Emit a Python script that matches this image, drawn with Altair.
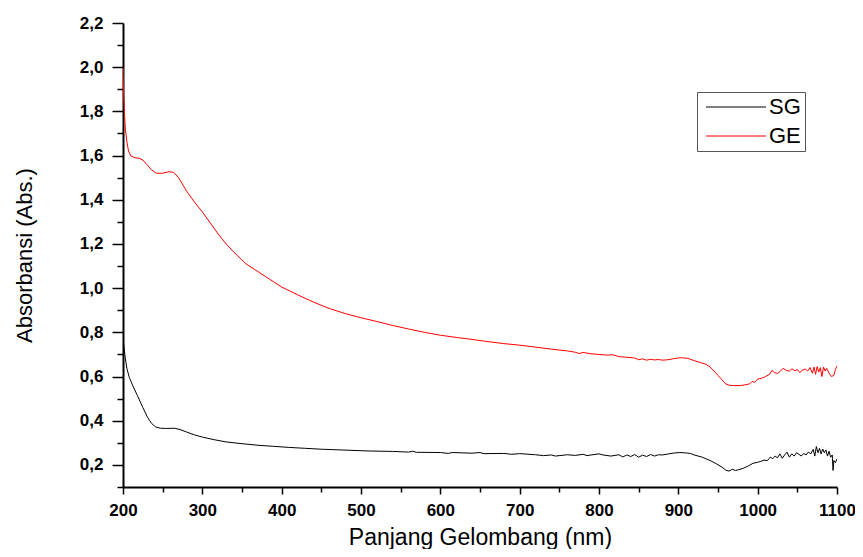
import altair as alt
import pandas as pd

series = ["SG", "GE"]
colors = ["#000000", "#ff0000"]

wl_sg = [200, 201, 203, 205, 208, 213, 218, 225, 231, 236, 241, 247, 255, 265, 272, 280, 290, 300,
         315, 330, 350, 370, 390, 410, 430, 450, 480, 510, 540, 560, 565, 570, 600, 610, 615, 640,
         650, 655, 680, 690, 700, 720, 730, 740, 745, 760, 770, 780, 785, 790, 800, 805, 815, 825,
         830, 835, 840, 845, 850, 855, 860, 865, 870, 875, 880, 888, 895, 902, 910, 915, 920, 930,
         940, 948, 955, 960, 964, 968, 972, 976, 982, 988, 994, 1000, 1004, 1008, 1012, 1016, 1019,
         1022, 1025, 1028, 1031, 1034, 1037, 1040, 1043, 1046, 1049, 1052, 1055, 1058, 1061, 1064,
         1067, 1070, 1072, 1074, 1076, 1078, 1080, 1082, 1084, 1086, 1088, 1090, 1092, 1094, 1095,
         1096, 1098, 1100]
abs_sg = [0.77, 0.74, 0.68, 0.635, 0.595, 0.553, 0.515, 0.46, 0.415, 0.388, 0.372, 0.366, 0.365,
          0.366, 0.36, 0.349, 0.336, 0.326, 0.314, 0.304, 0.296, 0.289, 0.284, 0.279, 0.275, 0.271,
          0.267, 0.263, 0.261, 0.258, 0.262, 0.257, 0.256, 0.252, 0.256, 0.253, 0.256, 0.251, 0.252,
          0.248, 0.251, 0.246, 0.242, 0.245, 0.24, 0.246, 0.243, 0.248, 0.242, 0.245, 0.25, 0.245,
          0.24, 0.246, 0.236, 0.245, 0.238, 0.247, 0.235, 0.244, 0.238, 0.247, 0.24, 0.246, 0.245,
          0.25, 0.254, 0.256, 0.254, 0.252, 0.245, 0.235, 0.22, 0.205, 0.19, 0.176, 0.172, 0.18,
          0.175, 0.178, 0.185, 0.195, 0.207, 0.212, 0.216, 0.222, 0.219, 0.235, 0.228, 0.24, 0.232,
          0.25, 0.23, 0.245, 0.258, 0.235, 0.25, 0.24, 0.255, 0.248, 0.24, 0.252, 0.245, 0.258,
          0.25, 0.27, 0.24, 0.283, 0.255, 0.275, 0.25, 0.272, 0.255, 0.268, 0.24, 0.262, 0.235,
          0.245, 0.175, 0.22, 0.21, 0.227]

wl_ge = [200, 201, 202, 203, 205, 207, 210, 215, 220, 225, 230, 236, 242, 250, 258, 264, 270, 280,
         290, 300, 310, 320, 330, 340, 355, 370, 385, 400, 420, 440, 460, 480, 500, 520, 540, 560,
         580, 600, 620, 640, 660, 680, 700, 720, 740, 760, 770, 775, 780, 790, 800, 810, 818, 825,
         835, 845, 850, 855, 860, 865, 870, 875, 880, 887, 893, 900, 905, 912, 920, 927, 935, 940,
         945, 950, 955, 960, 965, 970, 978, 985, 990, 993, 996, 1000, 1005, 1010, 1015, 1018, 1021,
         1025, 1028, 1032, 1036, 1040, 1043, 1047, 1050, 1053, 1057, 1060, 1063, 1066, 1069, 1071,
         1073, 1075, 1077, 1079, 1081, 1083, 1085, 1087, 1090, 1093, 1096, 1098, 1100]
abs_ge = [2.0, 1.86, 1.78, 1.72, 1.66, 1.62, 1.598, 1.59, 1.588, 1.58, 1.56, 1.535, 1.52, 1.52,
          1.527, 1.524, 1.5, 1.44, 1.39, 1.345, 1.295, 1.245, 1.2, 1.162, 1.11, 1.075, 1.04, 1.005,
          0.97, 0.937, 0.908, 0.885, 0.866, 0.849, 0.831, 0.815, 0.8, 0.787, 0.777, 0.768, 0.758,
          0.749, 0.742, 0.733, 0.724, 0.716, 0.71, 0.704, 0.709, 0.703, 0.7, 0.697, 0.698, 0.69,
          0.687, 0.684, 0.676, 0.68, 0.674, 0.678, 0.675, 0.677, 0.674, 0.676, 0.68, 0.684, 0.685,
          0.682, 0.672, 0.664, 0.655, 0.643, 0.625, 0.605, 0.585, 0.566, 0.56, 0.559, 0.559, 0.563,
          0.567, 0.578, 0.574, 0.588, 0.592, 0.6, 0.61, 0.628, 0.618, 0.614, 0.622, 0.637, 0.628,
          0.624, 0.635, 0.626, 0.632, 0.618, 0.63, 0.634, 0.625, 0.64, 0.615, 0.643, 0.61, 0.645,
          0.62, 0.64, 0.6, 0.643, 0.625, 0.637, 0.615, 0.6, 0.605, 0.632, 0.648]

x_ticks = list(range(200, 1101, 50))
y_ticks = [0.1, 0.2, 0.3, 0.4, 0.5, 0.6, 0.7, 0.8, 0.9, 1.0, 1.1, 1.2, 1.3, 1.4, 1.5, 1.6, 1.7,
           1.8, 1.9, 2.0, 2.1, 2.2]

df = pd.concat([
    pd.DataFrame({"wl": wl_sg, "abs": abs_sg, "s": "SG"}),
    pd.DataFrame({"wl": wl_ge, "abs": abs_ge, "s": "GE"}),
])

FONT = "Liberation Sans"

chart = alt.Chart(df).mark_line(strokeWidth=1, clip=True).encode(
    x=alt.X("wl:Q",
            scale=alt.Scale(domain=[200, 1100], nice=False, zero=False),
            axis=alt.Axis(values=x_ticks, format="d",
                          labelExpr="datum.value % 100 === 0 ? datum.label : ''",
                          tickSize={"condition": {"test": "datum.value % 100 === 0", "value": 7}, "value": 5},
                          labelFontSize=17, labelFontWeight="bold", labelPadding=8,
                          labelOverlap=False, labelFlush=False,
                          title="Panjang Gelombang (nm)", titleFontSize=23,
                          titleFontWeight="normal", titlePadding=8)),
    y=alt.Y("abs:Q",
            scale=alt.Scale(domain=[0.1, 2.2], nice=False, zero=False),
            axis=alt.Axis(values=y_ticks,
                          labelExpr="round(datum.value*10) % 2 === 0 ? replace(format(datum.value, '.1f'), '.', ',') : ''",
                          tickSize={"condition": {"test": "round(datum.value*10) % 2 === 0", "value": 11}, "value": 6},
                          labelFontSize=17, labelFontWeight="bold", labelPadding=9,
                          labelOverlap=False, labelFlush=False,
                          title="Absorbansi (Abs.)", titleFontSize=22,
                          titleFontWeight="normal", titlePadding=43)),
    color=alt.Color("s:N",
                    scale=alt.Scale(domain=series, range=colors),
                    legend=alt.Legend(title=None, orient="none", legendX=574, legendY=69,
                                      symbolType="M-3,0H3", symbolSize=400, symbolStrokeWidth=1,
                                      symbolOffset=24, symbolFillColor="transparent",
                                      labelFontSize=22, labelFont=FONT, labelOffset=22,
                                      strokeColor="#555555", padding=4, rowPadding=7,
                                      fillColor="white")),
).properties(
    width=714, height=464,
    autosize=alt.AutoSizeParams(type="none"),
    padding={"left": 115, "top": 15, "right": 18, "bottom": 62},
).configure_view(
    stroke=None
).configure_axis(
    grid=False, domainColor="black", domainWidth=2, tickColor="black", tickWidth=1.5,
    labelFont=FONT, titleFont=FONT, labelColor="black", titleColor="black",
).configure_legend(
    labelColor="black"
)

chart.save("out.html", embed_options={"renderer": "svg", "actions": False})
